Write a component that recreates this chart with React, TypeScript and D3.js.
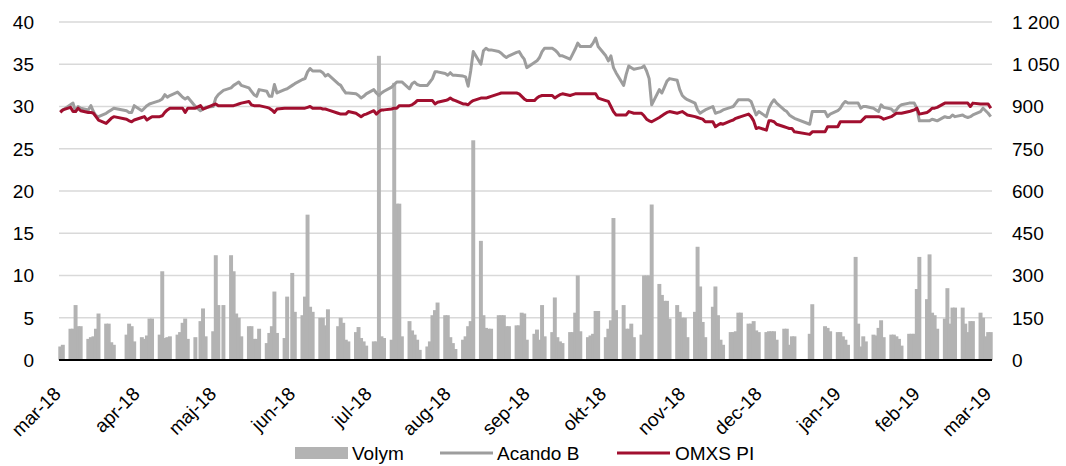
import React from "react";
import * as d3 from "d3";

const WIDTH = 1066;
const HEIGHT = 466;

const firstMonday = new Date(2018, 2, 5);
const axisStart = new Date(2018, 2, 8);
const axisEnd = new Date(2019, 2, 9);

const monthLabels = ["jan", "feb", "mar", "apr", "maj", "jun", "jul", "aug", "sep", "okt", "nov", "dec"];
const leftTicks = [0, 5, 10, 15, 20, 25, 30, 35, 40];
const rightTicks = [0, 150, 300, 450, 600, 750, 900, 1050, 1200];

// Weekly rows Mon..Fri, starting with the week of 2018-03-05; null = no trading
const volym: (number | null)[][] = [
  [null, null, null, 1.6, 1.8],
  [3.7, 3.7, 6.5, 4.0, 4.0],
  [2.5, 2.7, 2.8, 3.7, 5.5],
  [4.3, 4.3, 2.1, 1.8, null],
  [null, 3.0, 4.3, 4.0, 2.2],
  [2.7, 2.5, 2.9, 4.9, 4.9],
  [3.0, 10.5, 2.6, 2.7, 2.8],
  [3.0, 3.3, 4.4, 4.9, 2.5],
  [2.7, null, 4.6, 6.1, 2.8],
  [3.4, 12.4, 6.5, null, 6.5],
  [12.4, 10.5, 5.5, 5.0, 2.8],
  [4.0, 4.0, 2.5, 2.5, 3.7],
  [2.0, 3.2, 4.0, 8.1, 3.2],
  [2.6, 7.5, null, 10.3, 5.7],
  [5.3, 7.5, 17.2, 6.3, 5.7],
  [5.0, 5.0, 4.1, 6.0, null],
  [4.0, 5.0, 4.4, 2.4, 2.2],
  [3.3, 3.9, 2.6, 2.2, 1.7],
  [2.2, 2.2, 36.0, 2.8, 2.6],
  [2.4, 32.8, 18.5, 18.5, 2.8],
  [4.6, 3.5, 3.0, 2.4, 1.2],
  [1.6, 2.2, 5.3, 5.9, 6.8],
  [5.3, 5.3, 2.7, 2.0, 1.3],
  [2.4, 2.8, 4.0, 4.6, 26.0],
  [14.1, 5.3, 3.8, 3.7, 3.7],
  [5.3, 5.3, 5.3, 4.0, 4.0],
  [4.1, 4.1, 5.6, 5.5, 2.4],
  [3.1, 3.6, 2.4, 6.5, 2.8],
  [3.3, 7.4, 2.7, 2.2, 2.0],
  [3.3, 3.3, 5.6, 10.0, 3.4],
  [2.7, 2.9, 3.1, 5.8, 5.8],
  [2.7, 3.7, 4.7, 16.8, 5.9],
  [6.5, 3.7, 3.7, 4.3, 2.7],
  [3.0, 10.0, 10.0, 10.0, 18.4],
  [9.0, 7.7, 7.0, 7.0, 4.9],
  [6.5, 5.7, 5.0, 5.0, 2.7],
  [5.7, 13.4, 8.7, 4.5, 2.7],
  [6.3, 8.7, 5.3, 2.4, 1.8],
  [3.3, 3.3, 3.4, 5.6, 5.6],
  [4.3, 4.3, 4.6, 3.5, 3.3],
  [3.3, 3.4, 3.4, 3.4, 2.4],
  [3.7, 3.7, 1.8, 2.8, 2.8],
  [null, null, null, 3.1, 6.6],
  [null, null, 4.0, 3.8, 3.4],
  [3.3, 3.3, 2.8, 2.4, 1.8],
  [12.2, 4.3, 1.6, 2.8, 2.2],
  [3.0, 2.9, 3.8, 4.7, 2.7],
  [3.0, 3.0, 2.8, 2.5, 1.7],
  [3.1, 3.1, 3.1, 8.4, 12.2],
  [7.2, 12.5, 5.6, 5.3, 3.7],
  [4.9, 8.5, 4.3, 6.2, 6.2],
  [6.2, 4.3, 3.3, 4.6, 4.6],
  [5.6, 5.0, 2.8, 3.3, 3.3],
];

const acandoB: (number | null)[][] = [
  [null, null, null, 29.4, 29.6],
  [30.2, 30.4, 29.4, 30.0, 29.8],
  [29.6, 30.1, 29.4, 28.9, 28.8],
  [29.2, 29.4, 29.6, 29.8, null],
  [null, 29.5, 29.3, 29.3, 30.1],
  [29.5, 29.8, 30.1, 30.3, 30.4],
  [30.7, 30.9, 31.4, 31.1, 31.3],
  [31.7, 31.4, 31.1, 30.9, 31.1],
  [30.0, null, 29.5, 29.7, 29.9],
  [30.0, 31.0, 31.4, null, 31.9],
  [32.2, 32.5, 32.7, 32.9, 32.5],
  [32.2, 31.8, 31.4, 31.2, 32.0],
  [31.8, 31.2, 31.2, 32.6, 31.6],
  [32.0, 32.1, null, 32.5, 32.7],
  [33.2, 33.3, 34.1, 34.5, 34.2],
  [34.2, 34.0, 33.6, 33.8, null],
  [32.7, 32.5, 32.0, 31.6, 31.6],
  [31.5, 31.3, 31.0, 31.2, 31.5],
  [32.0, 31.6, 31.3, 31.6, 31.8],
  [32.3, 32.6, 32.9, 32.9, 32.9],
  [32.1, 32.7, 32.9, 32.6, 32.5],
  [32.5, 32.9, 33.3, 34.1, 34.1],
  [33.9, 33.7, 34.0, 33.7, 33.7],
  [33.6, 33.5, 32.4, 34.2, 36.5],
  [35.0, 36.6, 36.9, 36.7, 36.7],
  [36.5, 36.3, 36.0, 35.8, 36.0],
  [36.4, 36.5, 36.0, 35.6, 34.6],
  [35.2, 35.4, 35.8, 36.5, 36.9],
  [36.9, 36.7, 36.4, 36.0, 36.0],
  [35.6, 36.2, 36.8, 37.5, 37.1],
  [37.1, 37.1, 37.5, 38.1, 37.1],
  [36.0, 35.4, 36.0, 34.6, 34.0],
  [32.5, 33.8, 34.8, 34.6, 34.4],
  [34.6, 34.8, 34.2, 33.3, 30.2],
  [32.0, 31.6, 32.3, 33.0, 33.3],
  [33.1, 32.0, 31.3, 31.0, 30.8],
  [30.4, 29.6, 29.2, 29.4, 29.6],
  [30.0, 29.2, 29.3, 29.4, 29.6],
  [29.9, 30.0, 30.4, 30.8, 30.8],
  [30.8, 30.6, 29.8, 29.0, 29.4],
  [28.8, 29.8, 30.4, 30.8, 30.4],
  [29.6, 29.4, 29.0, 28.8, 28.6],
  [null, null, null, 27.9, 29.4],
  [null, null, 29.4, 28.8, 29.1],
  [29.5, 29.8, 30.3, 30.6, 30.4],
  [30.4, 30.4, 29.8, 30.0, 30.0],
  [29.8, 29.6, 29.4, 30.2, 29.9],
  [29.7, 29.4, 29.6, 30.0, 30.2],
  [30.4, 30.4, 30.4, 29.8, 28.3],
  [28.3, 28.3, 28.5, 28.4, 28.3],
  [28.8, 28.7, 28.7, 29.0, 28.8],
  [29.0, 28.8, 28.7, 28.8, 29.0],
  [29.4, 29.8, 29.5, 29.2, 28.8],
];

const omxsPI: (number | null)[][] = [
  [null, null, null, 879, 888],
  [897, 882, 882, 894, 885],
  [879, 879, 876, 864, 852],
  [840, 849, 858, 864, null],
  [null, 855, 849, 846, 852],
  [861, 864, 852, 858, 864],
  [864, 867, 879, 888, 894],
  [894, 894, 894, 879, 894],
  [894, null, 903, 891, 894],
  [906, 909, 903, null, 903],
  [903, 903, 906, 909, 912],
  [918, 906, 903, 903, 903],
  [897, 894, 888, 879, 891],
  [894, 894, null, 894, 894],
  [894, 894, 897, 900, 894],
  [894, 891, 891, 888, null],
  [876, 873, 873, 873, 882],
  [876, 870, 864, 870, 873],
  [885, 873, 882, 888, 888],
  [891, 894, 894, 903, 903],
  [903, 906, 912, 921, 921],
  [921, 921, 921, 909, 915],
  [921, 924, 930, 924, 921],
  [909, 909, 906, 915, 921],
  [930, 930, 930, 933, 936],
  [945, 948, 948, 948, 948],
  [948, 945, 936, 927, 921],
  [921, 930, 936, 939, 939],
  [939, 930, 936, 942, 945],
  [939, 942, 945, 945, 945],
  [945, 945, 945, 945, 930],
  [921, 918, 900, 882, 870],
  [870, 870, 882, 879, 876],
  [876, 867, 855, 849, 846],
  [861, 867, 873, 879, 882],
  [876, 879, 882, 876, 870],
  [864, 861, 858, 855, 846],
  [846, 828, 834, 840, 837],
  [849, 852, 858, 861, 864],
  [873, 864, 849, 822, 825],
  [816, 849, 849, 846, 837],
  [828, 825, 822, 822, 810],
  [null, null, null, 801, 810],
  [null, null, 810, 828, 828],
  [828, 846, 846, 846, 846],
  [846, 846, 846, 855, 864],
  [864, 864, 864, 861, 855],
  [864, 870, 876, 876, 876],
  [882, 885, 888, 894, 873],
  [879, 885, 894, 894, 897],
  [912, 912, 912, 912, 912],
  [912, 912, 912, 900, 912],
  [909, 909, 909, 909, 894],
];

type Pt = { date: Date; value: number };

function toPoints(weeks: (number | null)[][]): Pt[] {
  const out: Pt[] = [];
  weeks.forEach((week, w) =>
    week.forEach((v, k) => {
      if (v !== null) out.push({ date: d3.timeDay.offset(firstMonday, 7 * w + k), value: v });
    })
  );
  return out;
}

const svLocale = d3.formatLocale({ decimal: ",", thousands: "\u00a0", grouping: [3], currency: ["", " kr"] });
const fmtRight = svLocale.format(",");

const FONT = "'Liberation Sans', Arial, Helvetica, sans-serif";
const FS = 19;
const BAR_COLOR = "#b3b3b3";
const GRAY_LINE = "#9d9d9d";
const RED_LINE = "#a10f2f";
const GRID = "#d9d9d9";

export default function App() {
  const plot = { left: 59, right: 992, top: 22, bottom: 360 };
  const x = d3.scaleTime().domain([axisStart, axisEnd]).range([plot.left, plot.right]);
  const dayW = x(d3.timeDay.offset(axisStart, 1)) - x(axisStart);
  const cx = (d: Date) => x(d) + dayW / 2;
  const yL = d3.scaleLinear().domain([0, 40]).range([plot.bottom, plot.top]);
  const yR = d3.scaleLinear().domain([0, 1200]).range([plot.bottom, plot.top]);

  const volPts = toPoints(volym);
  const acPts = toPoints(acandoB);
  const omxPts = toPoints(omxsPI);

  const barW = dayW * 1.55;

  const acLine = d3.line<Pt>().x((d) => cx(d.date)).y((d) => yL(d.value))(acPts) || "";
  const omxLine = d3.line<Pt>().x((d) => cx(d.date)).y((d) => yR(d.value))(omxPts) || "";

  const monthTicks = d3.range(13).map((i) => d3.timeMonth.offset(axisStart, i));

  const legendY = 453;

  return (
    <svg
      width={WIDTH}
      height={HEIGHT}
      style={{ position: "absolute", left: 0, top: 0, background: "#fff" }}
      fontFamily={FONT}
    >
      {leftTicks
        .filter((t) => t > 0)
        .map((t) => (
          <line key={"g" + t} x1={plot.left} x2={plot.right} y1={yL(t)} y2={yL(t)} stroke={GRID} strokeWidth={1.5} />
        ))}

      {volPts.map((d, i) => (
        <rect
          key={"b" + i}
          x={cx(d.date) - barW / 2}
          y={yL(d.value)}
          width={barW}
          height={yL(0) - yL(d.value)}
          fill={BAR_COLOR}
        />
      ))}

      <line x1={plot.left} x2={plot.right} y1={yL(0)} y2={yL(0)} stroke="#000" strokeWidth={2} />

      <path d={acLine} fill="none" stroke={GRAY_LINE} strokeWidth={3} strokeLinejoin="round" />
      <path d={omxLine} fill="none" stroke={RED_LINE} strokeWidth={3} strokeLinejoin="round" />

      {leftTicks.map((t) => (
        <text key={"l" + t} x={34} y={yL(t)} dy="0.36em" textAnchor="end" fontSize={FS} fill="#000">
          {t}
        </text>
      ))}

      {rightTicks.map((t) => (
        <text key={"r" + t} x={1012} y={yR(t)} dy="0.36em" textAnchor="start" fontSize={FS} fill="#000">
          {fmtRight(t)}
        </text>
      ))}

      {monthTicks.map((d, i) => (
        <text
          key={"x" + i}
          transform={`translate(${x(d) + 3},${395}) rotate(-45)`}
          textAnchor="end"
          fontSize={FS}
          fill="#000"
        >
          {`${monthLabels[d.getMonth()]}-${String(d.getFullYear()).slice(2)}`}
        </text>
      ))}

      <g fontSize={FS} fill="#000">
        <rect x={295} y={legendY - 6} width={53} height={12} fill={BAR_COLOR} />
        <text x={352} y={legendY} dy="0.36em">Volym</text>
        <line x1={440} x2={493} y1={legendY} y2={legendY} stroke={GRAY_LINE} strokeWidth={3} />
        <text x={497} y={legendY} dy="0.36em">Acando B</text>
        <line x1={617} x2={670} y1={legendY} y2={legendY} stroke={RED_LINE} strokeWidth={3} />
        <text x={675} y={legendY} dy="0.36em">OMXS PI</text>
      </g>
    </svg>
  );
}
